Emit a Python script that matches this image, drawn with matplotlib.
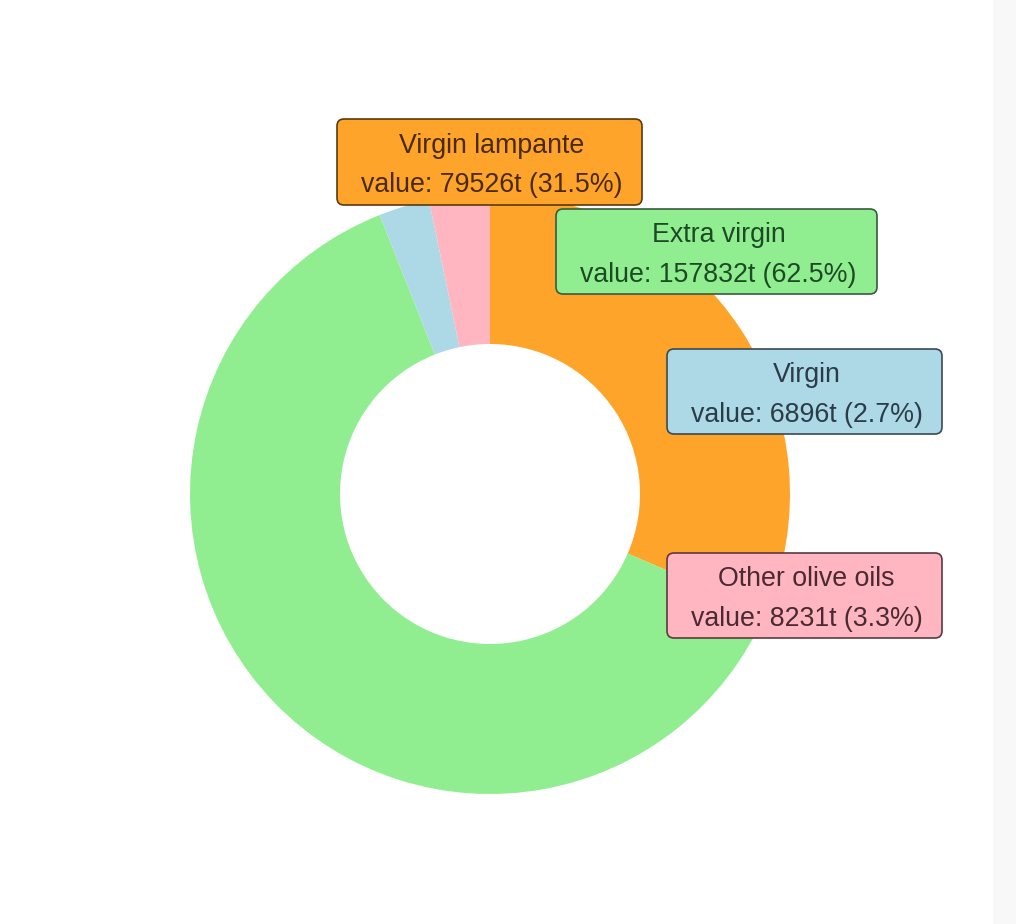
import matplotlib
matplotlib.use("Agg")
import matplotlib.pyplot as plt
from matplotlib.patches import Rectangle, FancyBboxPatch

categories = ["Virgin lampante", "Extra virgin", "Virgin", "Other olive oils"]
values = [79526, 157832, 6896, 8231]
percents = [31.5, 62.5, 2.7, 3.3]
colors = ["#FFA42B", "#90EE90", "#ADD8E6", "#FFB6C1"]
text_colors = ["#4a2a05", "#1d4a25", "#2a3c48", "#4a2a32"]
edge_colors = ["#5a3a10", "#3a5a40", "#3a4a55", "#5a3a40"]
# label boxes: (x0, y0, x1, y1) in image pixels
label_boxes = [(337, 119, 642, 205), (556, 209, 877, 294),
               (667, 349, 942, 434), (667, 553, 942, 638)]

W, H = 1016, 924
fig = plt.figure(figsize=(W / 100, H / 100), dpi=100)
fig.patch.set_facecolor("white")
ax = fig.add_axes([0, 0, 1, 1])

ax.pie(values, colors=colors, startangle=90, counterclock=False,
       radius=300, center=(490, H - 494), frame=True,
       wedgeprops=dict(width=150, linewidth=0))

ax.add_patch(Rectangle((993, 0), W - 993, H, facecolor="#f8f8f8",
                       edgecolor="none", zorder=0))

for cat, v, p, c, tc, ec, (x0, y0, x1, y1) in zip(
        categories, values, percents, colors, text_colors, edge_colors, label_boxes):
    ax.add_patch(FancyBboxPatch((x0, H - y1), x1 - x0, y1 - y0,
                                boxstyle="round,pad=0,rounding_size=7",
                                facecolor=c, edgecolor=ec, linewidth=1.2,
                                zorder=4))
    cx = (x0 + x1) / 2 + 2
    cy = (y0 + y1) / 2
    ax.text(cx, H - (cy - 16), cat, ha="center", va="center",
            fontsize=19.3, family="Liberation Sans", color=tc, zorder=5)
    ax.text(cx, H - (cy + 23), f"value: {v}t ({p}%)", ha="center", va="center",
            fontsize=19.3, family="Liberation Sans", color=tc, zorder=5)

ax.set_xlim(0, W)
ax.set_ylim(0, H)
ax.set_aspect("auto")
ax.axis("off")

fig.savefig("out.png", dpi=100)
